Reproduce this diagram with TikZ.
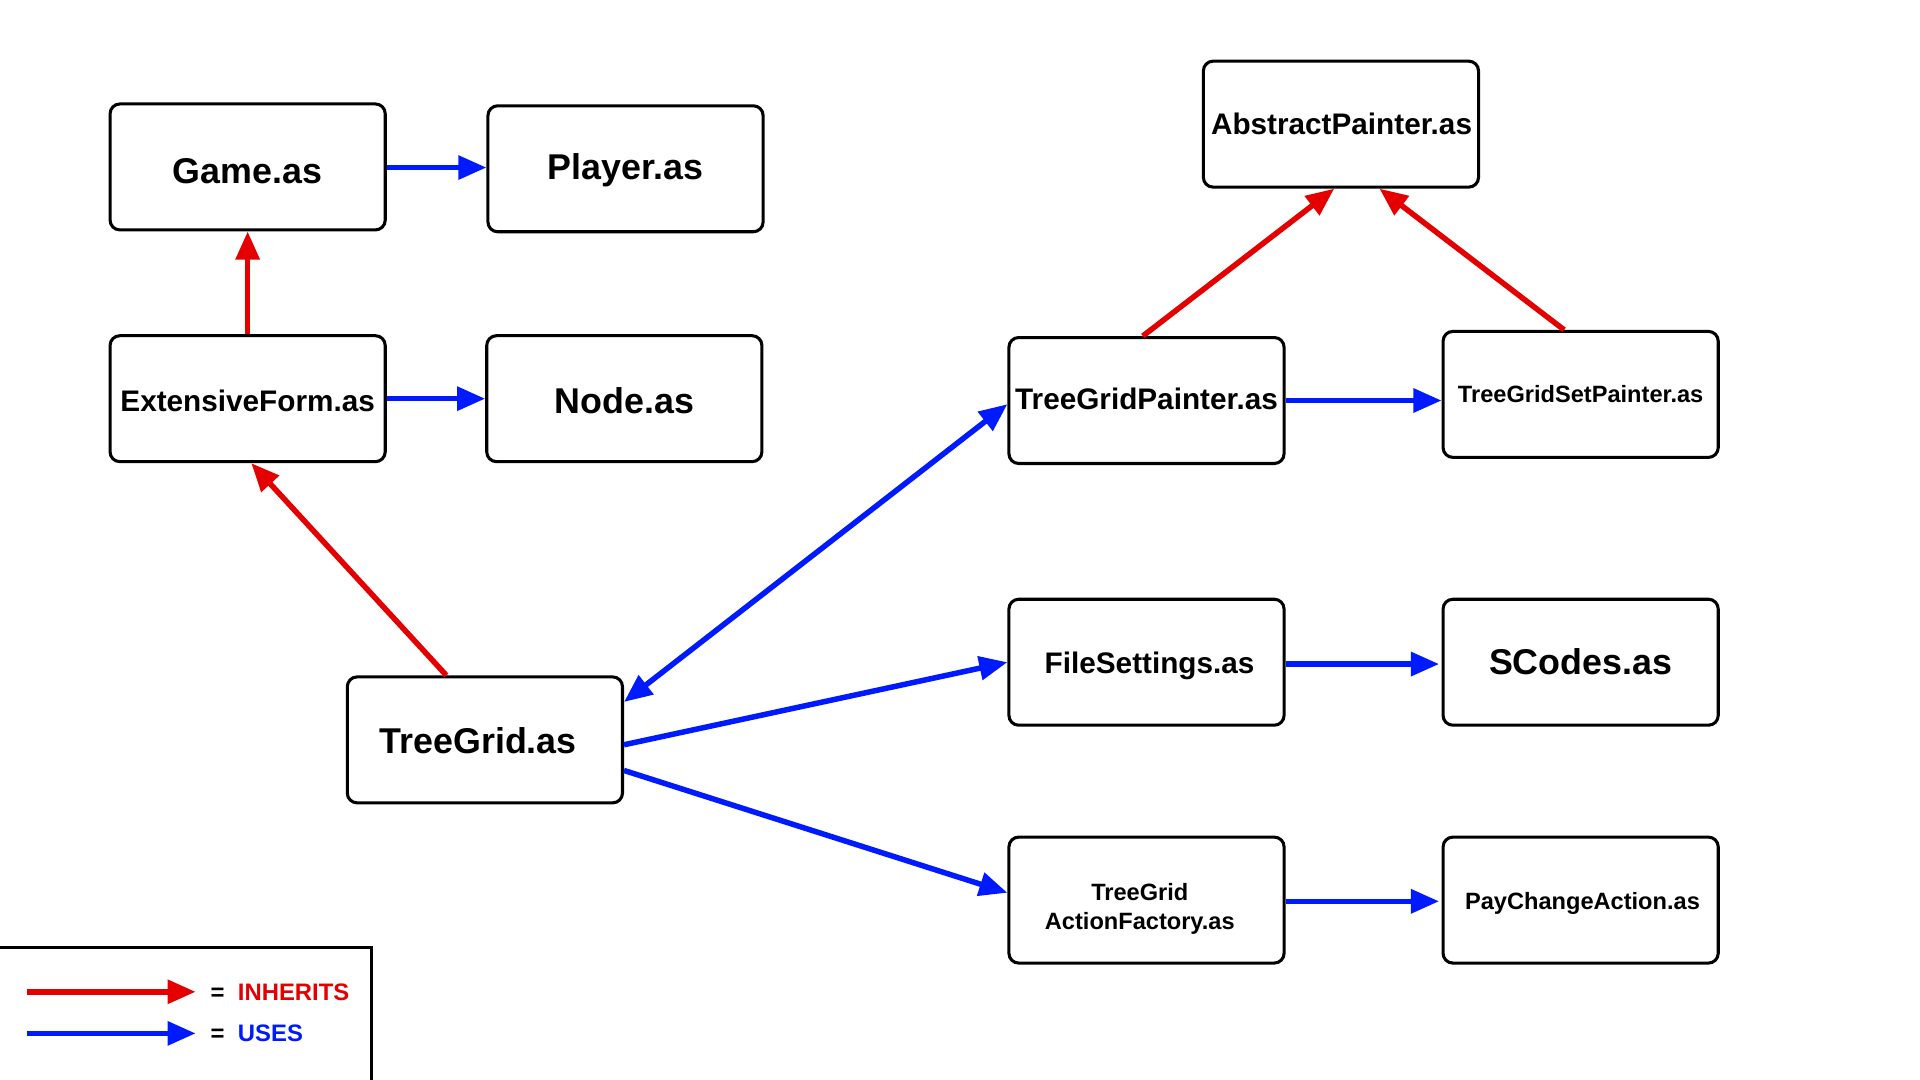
\documentclass[tikz,border=0pt]{standalone}
\usepackage{fontspec}
\setmainfont{Liberation Sans}
\usetikzlibrary{arrows.meta}
\definecolor{inhred}{RGB}{228,0,0}
\definecolor{useblue}{RGB}{0,26,255}
\begin{document}
\begin{tikzpicture}[x=1pt,y=-1pt,
  box/.style={draw=black,line width=2.5pt,rounded corners=8pt,minimum width=225pt,minimum height=103pt,inner sep=0pt},
  txt/.style={anchor=base,inner sep=0pt,align=center},
  big/.style={font=\bfseries\fontsize{29.3}{34}\selectfont},
  mid/.style={font=\bfseries\fontsize{24.3}{29}\selectfont},
  small/.style={font=\bfseries\fontsize{19.3}{23.2}\selectfont},
  inh/.style={draw=inhred,line width=4.5pt,-{Triangle[length=23pt,width=19pt]}},
  uses/.style={draw=useblue,line width=4.5pt,-{Triangle[length=23pt,width=19pt]}},
  usesboth/.style={draw=useblue,line width=4.5pt,{Triangle[length=23pt,width=19pt]}-{Triangle[length=23pt,width=19pt]}}
]
\useasboundingbox (0,0) rectangle (1570,883);
\fill[white] (0,0) rectangle (1570,883);

% boxes
\node[box] (game) at (202.5,136.5) {};
\node[box] (player) at (511.5,138) {};
\node[box] (ef) at (202.5,326) {};
\node[box] (nodeas) at (510.5,326) {};
\node[box] (tg) at (396.5,605) {};
\node[box] (ap) at (1096.5,101.5) {};
\node[box] (tgp) at (937.5,327.5) {};
\node[box] (tgsp) at (1292.5,322.5) {};
\node[box] (fs) at (937.5,541.5) {};
\node[box] (sc) at (1292.5,541.5) {};
\node[box] (af) at (937.5,736) {};
\node[box] (pc) at (1292.5,736) {};

% texts
\node[txt,big] (game-t) at ([shift={(0,13.5)}]game.center) {Game.as};
\node[txt,big] (player-t) at ([shift={(0,8.6)}]player.center) {Player.as};
\node[txt,mid] (ef-t) at ([shift={(0,10.6)}]ef.center) {ExtensiveForm.as};
\node[txt,big] (nodeas-t) at ([shift={(0,12.5)}]nodeas.center) {Node.as};
\node[txt,big] (tg-t) at ([shift={(-5.5,11)}]tg.center) {TreeGrid.as};
\node[txt,mid] (ap-t) at ([shift={(0.5,8.5)}]ap.center) {AbstractPainter.as};
\node[txt,mid] (tgp-t) at ([shift={(0,7)}]tgp.center) {TreeGridPainter.as};
\node[txt,small] (tgsp-t) at ([shift={(0,7)}]tgsp.center) {TreeGridSetPainter.as};
\node[txt,mid] (fs-t) at ([shift={(2.5,9)}]fs.center) {FileSettings.as};
\node[txt,big] (sc-t) at ([shift={(0,9.8)}]sc.center) {SCodes.as};
\node[txt,small] (af-t1) at ([shift={(-5.5,0.7)}]af.center) {TreeGrid};
\node[txt,small] (af-t2) at ([shift={(-5.5,23.9)}]af.center) {ActionFactory.as};
\node[txt,small] (pc-t) at ([shift={(1.5,7.3)}]pc.center) {PayChangeAction.as};

% connectors
\draw[uses] ([yshift=-0.5pt]game.east) -- ([yshift=-0.5pt]game.east -| player.west);
\draw[inh] (ef.north) -- (game.south);
\draw[uses] (ef.east) -- (nodeas.west);
\draw[inh] ([xshift=-31.5pt]tg.north) -- ([xshift=3pt]ef.south);
\draw[usesboth] ([yshift=31pt]tg.east) -- ([yshift=-3pt]tgp.west);
\draw[uses] ([yshift=-4pt]tg.east) -- (fs.west);
\draw[uses] ([yshift=-25pt]tg.east) -- ([yshift=6pt]af.west);
\draw[inh] ([xshift=-3pt]tgp.north) -- ([xshift=-5.5pt]ap.south);
\draw[inh] ([xshift=-13.5pt]tgsp.north) -- ([xshift=31.5pt]ap.south);
\draw[uses] (tgp.east) -- (tgp.east -| tgsp.west);
\draw[uses,shorten >=2pt] ([yshift=-1.5pt]fs.east) -- ([yshift=-1.5pt]sc.west);
\draw[uses,shorten >=2pt] ([yshift=-1pt]af.east) -- ([yshift=-1pt]pc.west);

% legend
\draw[line width=2.5pt] (-10,775) -- (304,775) -- (304,900);
\coordinate (r1) at (22,811);
\coordinate (r2) at (160,811);
\coordinate (b1) at (22,845);
\coordinate (b2) at (160,845);
\draw[inh] (r1) -- (r2);
\draw[uses] (b1) -- (b2);
\node[anchor=west,inner sep=0pt,font=\bfseries\fontsize{19.5}{23}\selectfont] (l1) at (172,811) {=\hspace{11pt}\textcolor{inhred}{INHERITS}};
\node[anchor=west,inner sep=0pt,font=\bfseries\fontsize{19.5}{23}\selectfont] (l2) at (172,845) {=\hspace{11pt}\textcolor{useblue}{USES}};
\end{tikzpicture}
\end{document}
